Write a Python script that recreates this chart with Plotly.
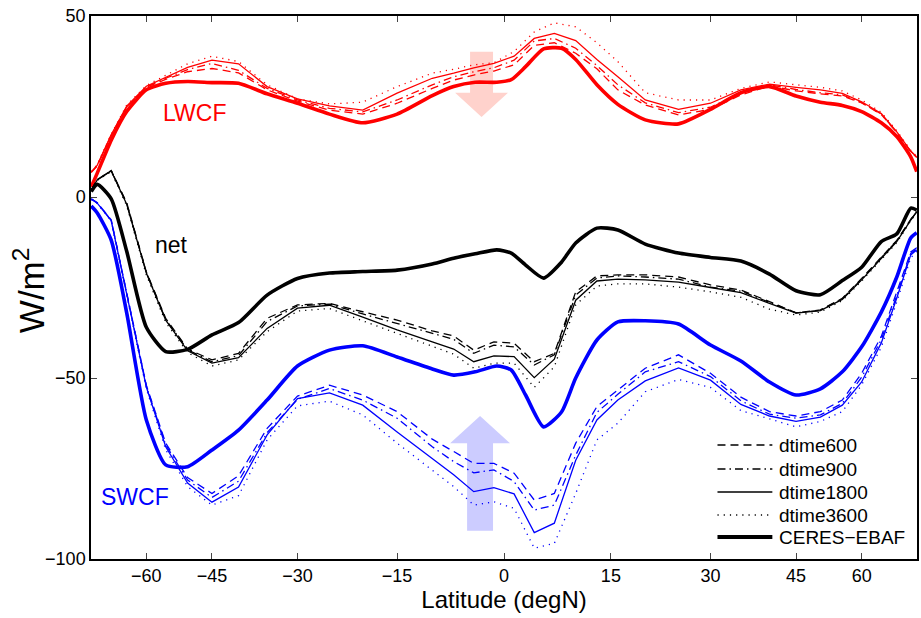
import numpy as np
import plotly.graph_objects as go

# ---------------- data ----------------
MODEL_LAT = [-88, -80, -72, -66, -60, -55, -50, -45, -40, -35, -30, -25, -20, -15, -10, -7,
             -4.2, -1.4, 1.4, 4.2, 7, 10, 13, 16, 20, 25, 30, 35, 40, 45, 50, 55, 60, 66, 72, 80, 88]

LWCF_600 = [6.8, 8.6, 17.0, 24.8, 30.3, 32.5, 34.6, 35.5, 34.3, 29.6, 26.5, 24.0, 22.9, 25.9, 30.0, 32.3,
            33.7, 34.8, 36.5, 41.9, 42.6, 39.7, 35.4, 29.6, 25.4, 22.7, 24.2, 28.2, 30.7, 29.3, 28.5, 27.9, 26.0, 22.8, 17.8, 12.5, 10.9]
LWCF_900 = [6.8, 8.7, 17.1, 24.9, 30.4, 32.8, 35.2, 36.9, 35.0, 30.0, 26.8, 24.5, 23.5, 26.8, 31.0, 33.2,
            34.6, 35.7, 37.8, 43.1, 43.8, 41.1, 36.3, 31.0, 26.0, 23.3, 24.8, 28.8, 31.0, 29.7, 28.8, 28.2, 26.1, 22.9, 17.9, 12.6, 11.0]
LWCF_1800 = [6.9, 8.8, 17.2, 25.1, 30.6, 33.1, 35.8, 37.8, 36.8, 30.5, 27.1, 25.2, 24.0, 28.7, 32.8, 34.2,
             35.7, 36.9, 38.9, 43.8, 45.2, 43.2, 38.0, 33.2, 26.8, 24.2, 25.9, 29.6, 31.2, 30.3, 29.6, 28.6, 26.3, 23.1, 18.0, 12.7, 11.1]
LWCF_3600 = [7.0, 9.0, 17.4, 25.4, 30.8, 33.6, 36.8, 38.9, 37.4, 31.0, 27.1, 25.7, 26.2, 30.5, 34.2, 35.3,
             36.5, 37.1, 40.2, 45.6, 48.1, 47.0, 42.6, 37.4, 28.8, 26.8, 26.8, 30.0, 31.8, 31.0, 30.3, 29.3, 26.8, 23.4, 18.3, 12.9, 11.2]

SWCF_600 = [-0.5, -1.6, -6.3, -26.5, -52.0, -68.0, -77.5, -81.9, -77.0, -63.9, -55.0, -52.0, -54.7, -59.3, -66.9, -70.3,
            -73.6, -73.6, -76.3, -83.7, -81.9, -68.0, -57.9, -53.3, -47.3, -43.6, -48.7, -55.3, -59.3, -60.5, -59.3, -56.1, -48.7, -38.5, -26.5, -15.2, -14.0]
SWCF_900 = [-0.5, -1.6, -6.4, -26.8, -52.2, -68.5, -78.2, -83.0, -78.5, -65.1, -55.9, -52.9, -56.1, -61.1, -69.0, -73.1,
            -76.2, -75.4, -78.6, -86.5, -85.1, -71.3, -59.5, -54.5, -48.3, -45.5, -49.6, -56.3, -60.0, -61.1, -60.2, -57.0, -49.8, -39.4, -27.2, -15.6, -14.3]
SWCF_1800 = [-0.6, -1.7, -6.5, -27.0, -52.5, -69.0, -79.0, -84.3, -80.1, -65.7, -55.7, -54.1, -57.5, -64.9, -72.1, -76.7,
             -81.4, -80.3, -82.0, -92.7, -90.1, -72.7, -61.6, -56.1, -50.8, -47.2, -50.6, -57.3, -60.5, -62.0, -60.8, -57.5, -51.1, -40.3, -27.9, -16.0, -14.6]
SWCF_3600 = [-0.7, -1.8, -6.7, -27.5, -53.0, -69.8, -80.0, -85.1, -82.5, -67.1, -57.7, -56.4, -60.2, -68.0, -75.4, -80.0,
             -85.1, -84.2, -86.0, -97.0, -95.7, -81.9, -67.1, -62.5, -53.8, -50.4, -52.6, -59.0, -61.3, -63.5, -62.0, -59.3, -51.9, -41.5, -29.0, -16.8, -15.0]

NET_600 = [1.9, 4.8, 7.3, -1.6, -20.7, -33.5, -42.0, -45.0, -43.2, -33.5, -29.8, -29.4, -31.7, -34.0, -37.0, -38.4,
           -42.3, -40.0, -40.4, -45.5, -43.2, -26.2, -21.8, -21.5, -21.5, -22.1, -24.3, -25.7, -28.9, -32.0, -31.2, -28.0, -22.5, -16.5, -12.0, -6.2, -4.0]
NET_900 = [1.9, 4.8, 7.3, -1.8, -20.8, -33.8, -42.2, -45.5, -43.8, -34.4, -30.1, -29.6, -32.3, -34.9, -37.7, -39.3,
           -43.2, -40.9, -41.4, -46.4, -43.6, -27.1, -22.4, -21.8, -22.1, -22.7, -24.9, -26.0, -29.1, -32.0, -31.3, -28.1, -22.7, -16.7, -12.1, -6.3, -4.0]
NET_1800 = [1.9, 4.7, 7.2, -2.0, -21.0, -34.0, -42.5, -45.9, -44.4, -36.3, -30.7, -29.9, -33.2, -36.7, -40.0, -42.0,
            -45.5, -43.9, -44.1, -49.9, -44.8, -28.5, -23.2, -22.7, -22.9, -23.5, -25.0, -26.4, -29.4, -32.1, -31.4, -28.3, -22.9, -16.9, -12.3, -6.4, -4.1]
NET_3600 = [1.8, 4.6, 7.0, -2.4, -21.5, -34.6, -43.0, -46.7, -45.0, -37.2, -31.5, -30.8, -34.2, -37.7, -41.4, -43.4,
            -47.3, -45.9, -45.9, -52.6, -46.9, -29.8, -24.6, -24.0, -24.0, -24.9, -26.2, -27.7, -31.0, -32.6, -31.8, -28.6, -23.2, -17.2, -12.6, -6.6, -4.3]

OBS_LAT = [-88, -80, -72, -66, -60, -55, -50, -45, -40, -35, -30, -25, -20, -15, -10, -7, -4, -1, 1, 3,
           5.5, 8, 10, 13, 16, 20, 25, 30, 35, 40, 45, 50, 55, 60, 66, 72, 80, 88]
LWCF_CERES = [2.8, 6.6, 15.7, 23.6, 29.6, 31.4, 31.9, 31.6, 31.4, 28.5, 25.9, 22.9, 20.5, 22.9, 28.0, 30.5, 31.7, 31.7, 32.4, 36.0,
              40.9, 41.1, 38.0, 31.0, 25.6, 21.3, 20.2, 24.2, 28.8, 30.5, 27.9, 26.2, 25.3, 23.6, 20.5, 16.7, 11.1, 7.0]
SWCF_CERES = [-2.5, -4.4, -11.9, -32.0, -61.6, -74.0, -74.5, -69.9, -64.4, -56.1, -46.7, -42.3, -41.1, -44.2, -47.5, -49.2, -48.3, -46.7, -47.8, -54.7,
              -63.5, -59.4, -50.0, -39.5, -34.5, -34.2, -35.1, -40.9, -45.3, -51.1, -54.7, -53.0, -48.3, -41.4, -31.8, -22.1, -11.3, -9.9]
NET_CERES = [1.5, 3.5, -0.5, -15.0, -36.0, -42.7, -42.1, -38.1, -34.7, -27.1, -22.5, -21.0, -20.6, -20.2, -18.5, -16.9, -15.7, -14.6, -15.5, -18.8,
             -22.4, -18.0, -12.7, -8.6, -9.1, -13.0, -15.5, -16.7, -17.7, -21.3, -25.9, -27.0, -23.1, -19.4, -12.3, -10.2, -3.1, -3.6]

TICK_LAT = [-60, -45, -30, -15, 0, 15, 30, 45, 60]
TICK_LABELS = ["\u221260", "\u221245", "\u221230", "\u221215", "0", "15", "30", "45", "60"]
Y_TICKS = [-100, -50, 0, 50]

SERIES_NAMES = ["dtime600", "dtime900", "dtime1800", "dtime3600", "CERES\u2212EBAF"]

# ---------------- styling ----------------
FONT = "Liberation Sans, Arial, Helvetica, sans-serif"
RED, BLUE, BLACK = "#ff0000", "#0000ff", "#000000"
STYLES = {
    "dtime600": dict(dash="8px,5px", width=1.3),
    "dtime900": dict(dash="8px,4px,1.5px,4px", width=1.3),
    "dtime1800": dict(dash="solid", width=1.3),
    "dtime3600": dict(dash="1.2px,5px", width=1.3),
    "CERES\u2212EBAF": dict(dash="solid", width=3.6),
}


def sx(lat):
    return np.sin(np.deg2rad(np.asarray(lat, dtype=float)))


fig = go.Figure()

groups = [
    (RED, [LWCF_600, LWCF_900, LWCF_1800, LWCF_3600], LWCF_CERES),
    (BLACK, [NET_600, NET_900, NET_1800, NET_3600], NET_CERES),
    (BLUE, [SWCF_600, SWCF_900, SWCF_1800, SWCF_3600], SWCF_CERES),
]
for color, models, obs in groups:
    for name, vals in zip(SERIES_NAMES[:4], models):
        st = STYLES[name]
        fig.add_trace(go.Scatter(x=sx(MODEL_LAT), y=vals, mode="lines", showlegend=False,
                                 line=dict(color=color, width=st["width"], dash=st["dash"])))
    st = STYLES[SERIES_NAMES[4]]
    fig.add_trace(go.Scatter(x=sx(OBS_LAT), y=obs, mode="lines", showlegend=False,
                             line=dict(color=color, width=st["width"], dash=st["dash"],
                                       shape="spline", smoothing=0.6)))

# ---------------- plot-area geometry (pixels) ----------------
PL, PR, PT, PB = 91, 919, 16, 559          # plot area edges
W, H = 921, 618


def paper_x(px):
    return (px - PL) / (PR - PL)


def paper_y(py):
    return (PB - py) / (PB - PT)


# ---------------- legend (drawn by hand, black samples) ----------------
LEG_Y = [445, 469, 492, 515, 537]
for name, py in zip(SERIES_NAMES, LEG_Y):
    st = STYLES[name]
    fig.add_shape(type="line", xref="paper", yref="paper",
                  x0=paper_x(719), x1=paper_x(774), y0=paper_y(py), y1=paper_y(py),
                  line=dict(color=BLACK, width=st["width"] + (0.6 if st["width"] > 2 else 0),
                            dash=st["dash"]))
    fig.add_annotation(xref="paper", yref="paper", x=paper_x(779), y=paper_y(py),
                       xanchor="left", yanchor="middle", text=name, showarrow=False,
                       font=dict(family=FONT, size=19, color=BLACK))


# ---------------- arrows ----------------
def px_to_sx(px):
    return (px - (PL + PR) / 2) / ((PR - PL) / 2)


def arrow_path(cx, half_shaft, half_head, y_tail, y_base, y_tip):
    pts = [(cx - half_shaft, y_tail), (cx + half_shaft, y_tail), (cx + half_shaft, y_base),
           (cx + half_head, y_base), (cx, y_tip), (cx - half_head, y_base), (cx - half_shaft, y_base)]
    return "M " + " L ".join(f"{x:.5f},{y:.3f}" for x, y in pts) + " Z"


HALF = (PR - PL) / 2
fig.add_shape(type="path", xref="x", yref="y", layer="below", line=dict(width=0),
              fillcolor="#ffd2cc",
              path=arrow_path(px_to_sx(482.5), 11.5 / HALF, 26.5 / HALF, 40.1, 28.8, 22.1))
fig.add_shape(type="path", xref="x", yref="y", layer="below", line=dict(width=0),
              fillcolor="#ccccff",
              path=arrow_path(px_to_sx(481.0), 13.0 / HALF, 30.0 / HALF, -92.2, -68.0, -60.5))

# ---------------- labels ----------------
fig.add_annotation(x=sx(-48.6), y=23.2, text="LWCF", showarrow=False,
                   font=dict(family=FONT, size=23, color=RED))
fig.add_annotation(x=sx(-53.7), y=-13.3, text="net", showarrow=False,
                   font=dict(family=FONT, size=23, color=BLACK))
fig.add_annotation(x=sx(-63.2), y=-82.9, text="SWCF", showarrow=False,
                   font=dict(family=FONT, size=23, color=BLUE))

# y-axis title placed as a rotated annotation for exact placement
fig.add_annotation(xref="paper", yref="paper", x=paper_x(29), y=paper_y(290),
                   xanchor="center", yanchor="middle", textangle=-90,
                   text="W/m<sup>2</sup>", showarrow=False,
                   font=dict(family=FONT, size=35, color=BLACK))

axis_common = dict(showline=True, linecolor="black", linewidth=1.5, mirror="ticks",
                   ticks="inside", ticklen=6, tickwidth=1, tickcolor="#444",
                   showgrid=False, zeroline=False,
                   tickfont=dict(family=FONT, size=18, color="black"))

fig.update_layout(
    width=W, height=H,
    margin=dict(l=PL, r=W - PR, t=PT, b=H - PB),
    paper_bgcolor="white", plot_bgcolor="white",
    font=dict(family=FONT, color="black"),
    xaxis=dict(range=[-1, 1], tickvals=sx(TICK_LAT), ticktext=TICK_LABELS,
               title=dict(text="Latitude (degN)", font=dict(family=FONT, size=24), standoff=5),
               **axis_common),
    yaxis=dict(range=[-100, 50], tickvals=Y_TICKS, **axis_common),
    showlegend=False,
)

fig.write_html("out.html")
